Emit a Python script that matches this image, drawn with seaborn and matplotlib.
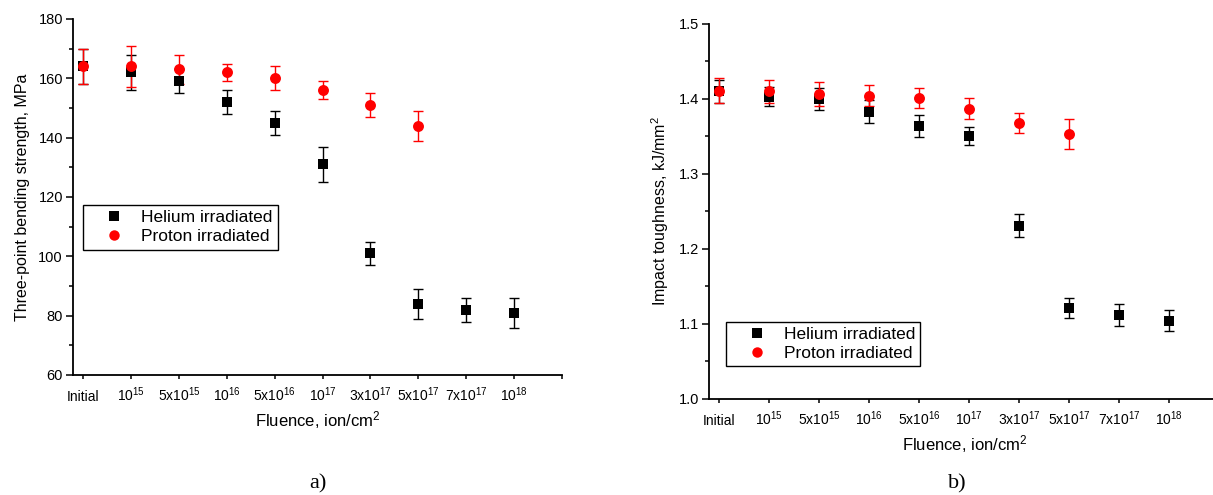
import numpy as np
import pandas as pd
import matplotlib
matplotlib.use("Agg")
import matplotlib.pyplot as plt
from matplotlib.ticker import MultipleLocator, FixedLocator
from matplotlib.lines import Line2D
import seaborn as sns

# ---------------- data ----------------
categories = ["Initial", r"$10^{15}$", r"5x$10^{15}$", r"$10^{16}$", r"5x$10^{16}$",
              r"$10^{17}$", r"3x$10^{17}$", r"5x$10^{17}$", r"7x$10^{17}$", r"$10^{18}$"]

# panel a) three-point bending strength, MPa
he_strength = [164, 162, 159, 152, 145, 131, 101, 84, 82, 81]
he_strength_err = [6, 6, 4, 4, 4, 6, 4, 5, 4, 5]
pr_strength = [164, 164, 163, 162, 160, 156, 151, 144]
pr_strength_err = [6, 7, 5, 3, 4, 3, 4, 5]

# panel b) impact toughness, kJ/mm^2
he_tough = [1.410, 1.403, 1.400, 1.383, 1.364, 1.351, 1.231, 1.121, 1.112, 1.104]
he_tough_err = [0.015, 0.013, 0.015, 0.015, 0.015, 0.012, 0.015, 0.013, 0.015, 0.014]
pr_tough = [1.411, 1.410, 1.406, 1.404, 1.401, 1.387, 1.368, 1.353]
pr_tough_err = [0.016, 0.015, 0.016, 0.014, 0.013, 0.014, 0.013, 0.020]

series_names = ["Helium irradiated", "Proton irradiated"]
colors = {"Helium irradiated": "black", "Proton irradiated": "#ff0000"}
markers = {"Helium irradiated": "s", "Proton irradiated": "o"}

# ---------------- style ----------------
sns.set_theme(style="ticks")
plt.rcParams["font.family"] = ["Liberation Sans", "DejaVu Sans"]
plt.rcParams["mathtext.fontset"] = "custom"
plt.rcParams["mathtext.rm"] = "Liberation Sans"
plt.rcParams["mathtext.it"] = "Liberation Sans:italic"
plt.rcParams["mathtext.bf"] = "Liberation Sans:bold"
plt.rcParams["axes.edgecolor"] = "black"
plt.rcParams["text.color"] = "black"
plt.rcParams["axes.labelcolor"] = "black"
plt.rcParams["xtick.color"] = "black"
plt.rcParams["ytick.color"] = "black"

W, H = 1213, 495
fig = plt.figure(figsize=(W / 100, H / 100), dpi=100)


def px_axes(left, right, top, bottom):
    return fig.add_axes([left / W, 1 - bottom / H, (right - left) / W, (bottom - top) / H])


def make_df(he, he_err, pr, pr_err):
    rows = []
    for i, (v, e) in enumerate(zip(he, he_err)):
        rows.append(dict(pos=i, value=v, err=e, series=series_names[0]))
    for i, (v, e) in enumerate(zip(pr, pr_err)):
        rows.append(dict(pos=i, value=v, err=e, series=series_names[1]))
    return pd.DataFrame(rows)


def draw_panel(ax, df, ylim, ymaj, ymin, ylabel, xlim):
    for name, sz in zip(series_names, [48, 62]):
        sub = df[df.series == name]
        ax.errorbar(sub.pos, sub.value, yerr=sub.err, fmt="none", ecolor=colors[name],
                    elinewidth=1.0, capsize=3.5, capthick=1.0, zorder=2)
        sns.scatterplot(data=sub, x="pos", y="value", color=colors[name], marker=markers[name],
                        s=sz, linewidth=0, ax=ax, zorder=3, legend=False)
    ax.set_xlim(*xlim)
    ax.set_ylim(*ylim)
    ax.xaxis.set_major_locator(FixedLocator(list(range(len(categories) + 1))))
    ax.set_xticklabels(categories + [""], fontsize=10)
    for lbl in ax.get_xticklabels():
        lbl.set_verticalalignment("baseline")
    ax.yaxis.set_major_locator(MultipleLocator(ymaj))
    ax.yaxis.set_minor_locator(MultipleLocator(ymin))
    ax.tick_params(axis="y", which="major", direction="out", length=5, width=1.1, labelsize=10.5, pad=2)
    ax.tick_params(axis="y", which="minor", direction="out", length=3, width=1.1)
    ax.tick_params(axis="x", which="major", direction="out", length=3, width=1.1, pad=15.5)
    for s in ["top", "right"]:
        ax.spines[s].set_visible(False)
    for s in ["left", "bottom"]:
        ax.spines[s].set_linewidth(1.3)
        ax.spines[s].set_color("black")
    ax.set_xlabel(r"Fluence, ion/cm$^2$", fontsize=12, labelpad=4)
    ax.set_ylabel(ylabel, fontsize=11.5, labelpad=6)
    ax.grid(False)


def add_legend(ax, x0, y0):
    handles = [Line2D([], [], linestyle="none", marker="s", color="black", markersize=6.5, markeredgewidth=0),
               Line2D([], [], linestyle="none", marker="o", color="#ff0000", markersize=7.5, markeredgewidth=0)]
    leg = fig.legend(handles, series_names, loc="upper left", bbox_to_anchor=(x0 / W, 1 - y0 / H),
                     bbox_transform=fig.transFigure, fontsize=12.5, frameon=True, fancybox=False,
                     edgecolor="black", framealpha=1, borderpad=0.3, handlelength=3.0,
                     handletextpad=0.05, labelspacing=0.22, borderaxespad=0)
    leg.get_frame().set_linewidth(1.0)


# ---------------- panel a ----------------
ax1 = px_axes(72.7, 562, 19, 375)
dfa = make_df(he_strength, he_strength_err, pr_strength, pr_strength_err)
draw_panel(ax1, dfa, (60, 180), 20, 10, "Three-point bending strength, MPa", (-0.22, 10))
add_legend(ax1, 83, 205)

# ---------------- panel b ----------------
ax2 = px_axes(709.3, 1219.3, 23.7, 399)
dfb = make_df(he_tough, he_tough_err, pr_tough, pr_tough_err)
draw_panel(ax2, dfb, (1.0, 1.5), 0.1, 0.05, r"Impact toughness, kJ/mm$^2$", (-0.2, 10))
add_legend(ax2, 725.7, 321.7)

fig.text(318 / W, 1 - 484 / H, "a)", ha="center", va="center", fontsize=16, family="Liberation Serif")
fig.text(957 / W, 1 - 484 / H, "b)", ha="center", va="center", fontsize=16, family="Liberation Serif")

fig.savefig("out.png", dpi=100)
